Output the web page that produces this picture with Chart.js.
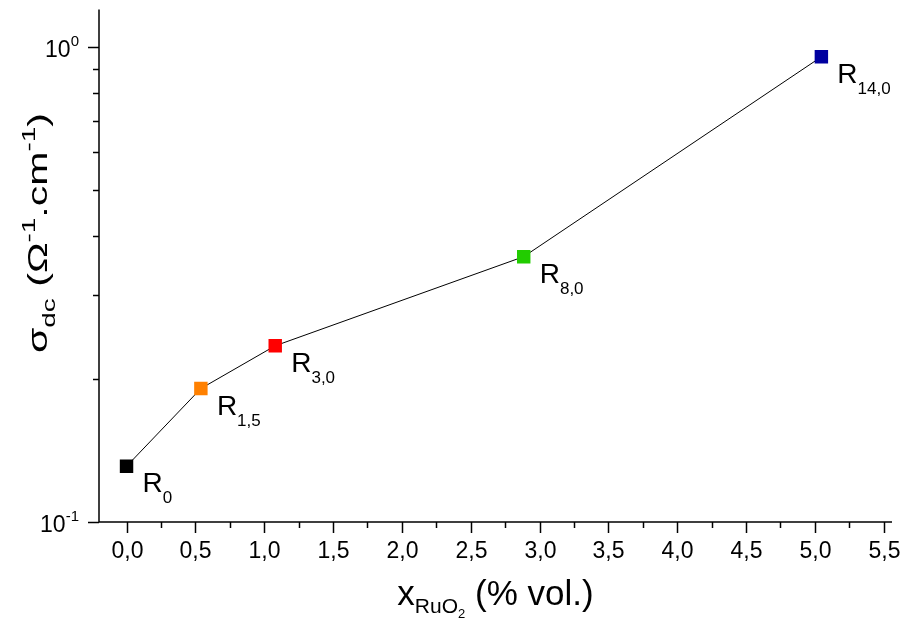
<!DOCTYPE html>
<html>
<head>
<meta charset="utf-8">
<script src="https://cdn.jsdelivr.net/npm/chart.js@4/dist/chart.umd.min.js"></script>
<style>
    html, body { margin: 0; padding: 0; background: #fff; }
    #wrap { width: 904px; height: 619px; }
</style>
</head>
<body>
<div id="wrap"><canvas id="chart"></canvas></div>
<script>
// --- DATA ---
const xValues = [0, 0.54, 1.08, 2.885, 5.047];           // x RuO2 (% vol.)
const sigmaValues = [0.131, 0.191, 0.235, 0.362, 0.954]; // sigma dc
const sampleSubs = ['0', '1,5', '3,0', '8,0', '14,0'];   // R subscripts
const pointColors = ['#000000', '#ff8000', '#ff0000', '#22cc00', '#0000a0'];
const xTicks = [0, 0.5, 1, 1.5, 2, 2.5, 3, 3.5, 4, 4.5, 5, 5.5];
const yMajorTicks = [0.1, 1];
const yMinorTicks = [0.2, 0.3, 0.4, 0.5, 0.6, 0.7, 0.8, 0.9];

const FONT = '"Liberation Sans", Arial, sans-serif';

// width of a run of text pieces
function richWidth(ctx, parts) {
    let w = 0;
    parts.forEach(p => {
        ctx.font = p.size + 'px ' + FONT;
        w += ctx.measureText(p.t).width;
    });
    return w;
}

// draw a run of text pieces (sub/superscripts) at x, baseline y
function drawRich(ctx, parts, x, y, align) {
    const w = richWidth(ctx, parts);
    let cx = x;
    if (align === 'center') cx = x - w / 2;
    if (align === 'right') cx = x - w;
    ctx.textAlign = 'left';
    ctx.textBaseline = 'alphabetic';
    parts.forEach(p => {
        ctx.font = p.size + 'px ' + FONT;
        ctx.fillText(p.t, cx, y + (p.dy || 0));
        cx += ctx.measureText(p.t).width;
    });
}

// --- AXES, TICKS & LABELS PLUGIN ---
const axesPlugin = {
    id: 'axesPlugin',
    afterDraw(chart) {
        const ctx = chart.ctx;
        const area = chart.chartArea;
        const xs = chart.scales.x;
        const ys = chart.scales.y;

        ctx.save();
        ctx.strokeStyle = '#000';
        ctx.fillStyle = '#000';
        ctx.lineWidth = 1.5;

        // axis lines
        ctx.beginPath();
        ctx.moveTo(area.left, area.top);
        ctx.lineTo(area.left, area.bottom);
        ctx.lineTo(area.right, area.bottom);
        ctx.stroke();

        // x ticks
        xTicks.forEach(v => {
            const px = Math.round(xs.getPixelForValue(v)) + 0.5;
            ctx.beginPath();
            ctx.moveTo(px, area.bottom);
            ctx.lineTo(px, area.bottom + 11);
            ctx.stroke();
            drawRich(ctx, [{ t: v.toFixed(1).replace('.', ','), size: 23 }], px, area.bottom + 36, 'center');
        });
        for (let i = 0; i < xTicks.length - 1; i++) {
            const px = Math.round(xs.getPixelForValue((xTicks[i] + xTicks[i + 1]) / 2)) + 0.5;
            ctx.beginPath();
            ctx.moveTo(px, area.bottom);
            ctx.lineTo(px, area.bottom + 6);
            ctx.stroke();
        }

        // y ticks (log decades)
        yMajorTicks.forEach(v => {
            const py = Math.round(ys.getPixelForValue(v)) + 0.5;
            ctx.beginPath();
            ctx.moveTo(area.left, py);
            ctx.lineTo(area.left - 11, py);
            ctx.stroke();
            const exp = Math.round(Math.log10(v));
            drawRich(ctx, [
                { t: '10', size: 23 },
                { t: String(exp), size: 15, dy: -11 }
            ], area.left - 20, py + 9, 'right');
        });
        yMinorTicks.forEach(v => {
            const py = Math.round(ys.getPixelForValue(v)) + 0.5;
            ctx.beginPath();
            ctx.moveTo(area.left, py);
            ctx.lineTo(area.left - 6, py);
            ctx.stroke();
        });

        // x title
        drawRich(ctx, [
            { t: 'x', size: 35 },
            { t: 'RuO', size: 21, dy: 8 },
            { t: '2', size: 13, dy: 13 },
            { t: ' (% vol.)', size: 35 }
        ], (area.left + area.right) / 2, area.bottom + 83, 'center');

        // y title (rotated, stretched along its length like the original)
        const yTitle = [
            { t: 'σ', size: 28 },
            { t: 'dc', size: 19, dy: 8 },
            { t: ' (Ω', size: 28 },
            { t: '-1', size: 19, dy: -12 },
            { t: '.cm', size: 28 },
            { t: '-1', size: 19, dy: -12 },
            { t: ')', size: 28 }
        ];
        const stretch = 240 / richWidth(ctx, yTitle);
        ctx.save();
        ctx.translate(47, 233);
        ctx.rotate(-Math.PI / 2);
        ctx.scale(stretch, 1);
        drawRich(ctx, yTitle, 0, 0, 'center');
        ctx.restore();

        // point labels R_n
        const meta = chart.getDatasetMeta(0);
        meta.data.forEach((pt, i) => {
            drawRich(ctx, [
                { t: 'R', size: 28 },
                { t: sampleSubs[i], size: 17, dy: 11 }
            ], pt.x + 16, pt.y + 26, 'left');
        });

        ctx.restore();
    }
};

// --- CHART ---
new Chart(document.getElementById('chart'), {
    type: 'scatter',
    data: {
        datasets: [{
            data: xValues.map((x, i) => ({ x: x, y: sigmaValues[i] })),
            showLine: true,
            borderColor: '#000',
            borderWidth: 1,
            pointStyle: 'rect',
            pointRadius: 9.5,
            pointHoverRadius: 9.5,
            pointBorderWidth: 0,
            pointBackgroundColor: pointColors,
            pointBorderColor: pointColors
        }]
    },
    options: {
        responsive: true,
        maintainAspectRatio: false,
        animation: false,
        layout: { padding: { left: 99, right: 12, top: 8, bottom: 97 } },
        plugins: { legend: { display: false }, tooltip: { enabled: false } },
        scales: {
            x: { type: 'linear', display: false, min: -0.2, max: 5.56 },
            y: { type: 'logarithmic', display: false, min: 0.1, max: 1.2 }
        }
    },
    plugins: [axesPlugin]
});
</script>
</body>
</html>
